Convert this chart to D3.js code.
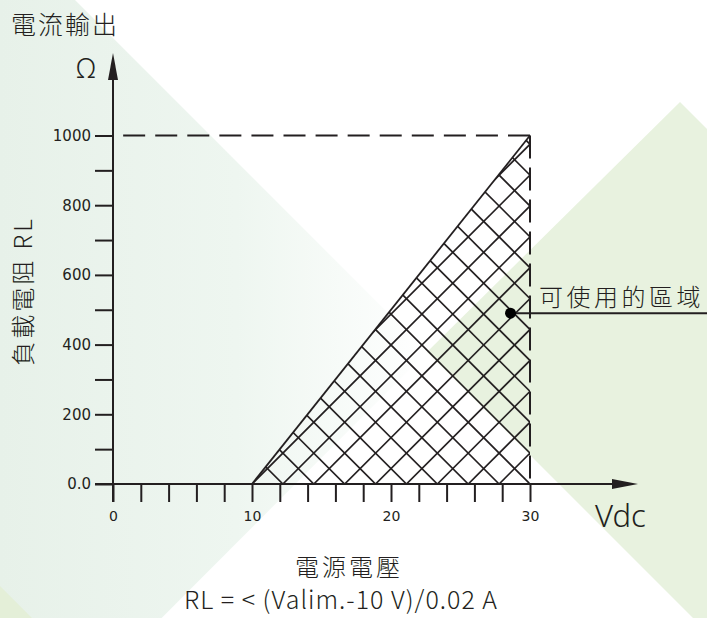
<!DOCTYPE html>
<html>
<head>
<meta charset="utf-8">
<script src="https://cdn.jsdelivr.net/npm/d3@7"></script>
<style>
  html, body { margin: 0; padding: 0; background: #fff; }
  svg { display: block; }
  .tick text { font-family: 'DejaVu Sans', sans-serif; }
</style>
</head>
<body>
<svg id="chart" width="707" height="618"></svg>
<script>
// ---------------- data ----------------
const xMinorTicks = [0, 2, 4, 6, 8, 10, 12, 14, 16, 18, 20, 22, 24, 26, 28, 30];
const xTickLabels = [0, 10, 20, 30];
const yTicks = [0, 100, 200, 300, 400, 500, 600, 700, 800, 900, 1000];
const yTickLabels = { 0: "0.0", 200: "200", 400: "400", 600: "600", 800: "800", 1000: "1000" };
const regionVdc = [10, 30, 30];       // usable region corners (Vdc)
const regionRL = [0, 0, 1000];        // usable region corners (Ω)
const limitVdc = 30;
const limitRL = 1000;
const markerPoint = [28.6, 490];
const hatchCells = 9;                  // hatch cells across the base of the region

const titleTop = "電流輸出";
const unitY = "Ω";
const titleY = "負載電阻 RL";
const unitX = "Vdc";
const titleX = "電源電壓";
const formula = "RL = < (Valim.-10 V)/0.02 A";
const regionLabel = "可使用的區域";

// ---------------- setup ----------------
const ink = "#231f20";
const svg = d3.select("#chart");
const x = d3.scaleLinear().domain([0, 30]).range([113, 530]);
const y = d3.scaleLinear().domain([0, 1000]).range([484, 135.5]);

// ---------------- background decoration ----------------
const defs = svg.append("defs");
const grad = defs.append("linearGradient").attr("id", "leftGrad")
  .attr("gradientUnits", "userSpaceOnUse").attr("x1", 0).attr("y1", 0).attr("x2", 430).attr("y2", 0);
grad.append("stop").attr("offset", 0).attr("stop-color", "#e7f1e9");
grad.append("stop").attr("offset", 0.55).attr("stop-color", "#eef6f0");
grad.append("stop").attr("offset", 1).attr("stop-color", "#ffffff");

const bg = svg.append("g");
bg.append("polygon").attr("points", "0,0 75,0 427,352 0,780").attr("fill", "url(#leftGrad)");
bg.append("polygon").attr("points", "427,352 680,102 707,129 707,632").attr("fill", "#e8f2df");
bg.append("polygon").attr("points", "0,586 32,618 0,618").attr("fill", "#e4efd8");

// ---------------- hatched region ----------------
const regionPts = regionVdc.map((v, i) => [x(v), y(regionRL[i])]);
defs.append("clipPath").attr("id", "regionClip")
  .append("polygon").attr("points", regionPts.map(p => p.join(",")).join(" "));

const x0 = x(regionVdc[0]);
const step = (x(regionVdc[1]) - x(regionVdc[0])) / hatchCells;
const y0 = y(0);
const hatch = svg.append("g").attr("clip-path", "url(#regionClip)")
  .attr("stroke", ink).attr("stroke-width", 1.7).attr("fill", "none");
const L = 500;
for (let k = -20; k <= 20; k++) {
  const bx = x0 + k * step;
  hatch.append("line").attr("x1", bx).attr("y1", y0).attr("x2", bx + L).attr("y2", y0 - L);
  hatch.append("line").attr("x1", bx).attr("y1", y0).attr("x2", bx - L).attr("y2", y0 - L);
}
// hypotenuse
svg.append("line")
  .attr("x1", regionPts[0][0]).attr("y1", regionPts[0][1])
  .attr("x2", regionPts[2][0]).attr("y2", regionPts[2][1])
  .attr("stroke", ink).attr("stroke-width", 1.8);

// ---------------- dashed limit lines ----------------
svg.append("line")
  .attr("x1", x(limitVdc)).attr("y1", y(limitRL)).attr("x2", x(0)).attr("y2", y(limitRL))
  .attr("stroke", ink).attr("stroke-width", 2).attr("stroke-dasharray", "22,10.07");
svg.append("line")
  .attr("x1", x(limitVdc)).attr("y1", y(limitRL)).attr("x2", x(limitVdc)).attr("y2", y(0))
  .attr("stroke", ink).attr("stroke-width", 2).attr("stroke-dasharray", "23,9");

// ---------------- axes ----------------
const xAxis = d3.axisBottom(x).tickValues(xMinorTicks).tickSize(18).tickPadding(9)
  .tickFormat(d => xTickLabels.includes(d) ? String(d) : "");
const gx = svg.append("g").attr("transform", `translate(0,${y(0)})`).call(xAxis);
gx.attr("font-size", 14).attr("font-family", "'DejaVu Sans', sans-serif");
gx.select(".domain").remove();
gx.selectAll(".tick line").attr("stroke", ink).attr("stroke-width", 2);
gx.selectAll(".tick text").attr("fill", ink).attr("font-size", 14);

const yAxis = d3.axisLeft(y).tickValues(yTicks).tickSize(18).tickPadding(4)
  .tickFormat(d => yTickLabels[d] || "");
const gy = svg.append("g").attr("transform", `translate(${x(0)},0)`).call(yAxis);
gy.attr("font-size", 15).attr("font-family", "'DejaVu Sans', sans-serif");
gy.select(".domain").remove();
gy.selectAll(".tick line").attr("stroke", ink).attr("stroke-width", 2);
gy.selectAll(".tick text").attr("fill", ink).attr("font-size", 15);

// axis lines with arrows
svg.append("line").attr("x1", x(0)).attr("y1", y(0) + 18).attr("x2", x(0)).attr("y2", 72)
  .attr("stroke", ink).attr("stroke-width", 2);
svg.append("polygon").attr("points", `${x(0)},53 ${x(0) - 5},80 ${x(0) + 5},80`).attr("fill", ink);
svg.append("line").attr("x1", x(0) - 18).attr("y1", y(0)).attr("x2", 620).attr("y2", y(0))
  .attr("stroke", ink).attr("stroke-width", 2);
svg.append("polygon").attr("points", `638,${y(0)} 612,${y(0) - 5} 612,${y(0) + 5}`).attr("fill", ink);

// ---------------- marker + label ----------------
svg.append("line").attr("x1", x(markerPoint[0])).attr("y1", y(markerPoint[1]))
  .attr("x2", 707).attr("y2", y(markerPoint[1])).attr("stroke", ink).attr("stroke-width", 1.8);
svg.append("circle").attr("cx", x(markerPoint[0])).attr("cy", y(markerPoint[1])).attr("r", 5.5).attr("fill", "#000");

const cjk = "'Noto Sans CJK TC', 'Noto Sans CJK SC', sans-serif";
svg.append("text").attr("x", 539).attr("y", 306)
  .attr("font-family", cjk).attr("font-size", 24).attr("font-weight", 300).attr("letter-spacing", 3.5)
  .attr("fill", ink).text(regionLabel);

// ---------------- titles ----------------
svg.append("text").attr("x", 11).attr("y", 34)
  .attr("font-family", cjk).attr("font-size", 25).attr("font-weight", 300).attr("letter-spacing", 2)
  .attr("fill", ink).text(titleTop);
svg.append("text").attr("x", 86).attr("y", 78).attr("text-anchor", "middle")
  .attr("font-family", "'Noto Sans', sans-serif").attr("font-size", 27).attr("font-weight", 300)
  .attr("fill", ink).text(unitY);
svg.append("text").attr("transform", "translate(32,291) rotate(-90)").attr("text-anchor", "middle")
  .attr("font-family", cjk).attr("font-size", 24).attr("font-weight", 300).attr("letter-spacing", 3)
  .attr("fill", ink).text(titleY);
svg.append("text").attr("x", 595).attr("y", 527)
  .attr("font-family", "'Noto Sans', sans-serif").attr("font-size", 31).attr("font-weight", 300)
  .attr("fill", ink).text(unitX);
svg.append("text").attr("x", 349).attr("y", 576).attr("text-anchor", "middle")
  .attr("font-family", cjk).attr("font-size", 24).attr("font-weight", 300).attr("letter-spacing", 3)
  .attr("fill", ink).text(titleX);
svg.append("text").attr("x", 341).attr("y", 609).attr("text-anchor", "middle")
  .attr("font-family", cjk).attr("font-size", 25).attr("font-weight", 300).attr("letter-spacing", 1)
  .attr("fill", ink).text(formula);
</script>
</body>
</html>
